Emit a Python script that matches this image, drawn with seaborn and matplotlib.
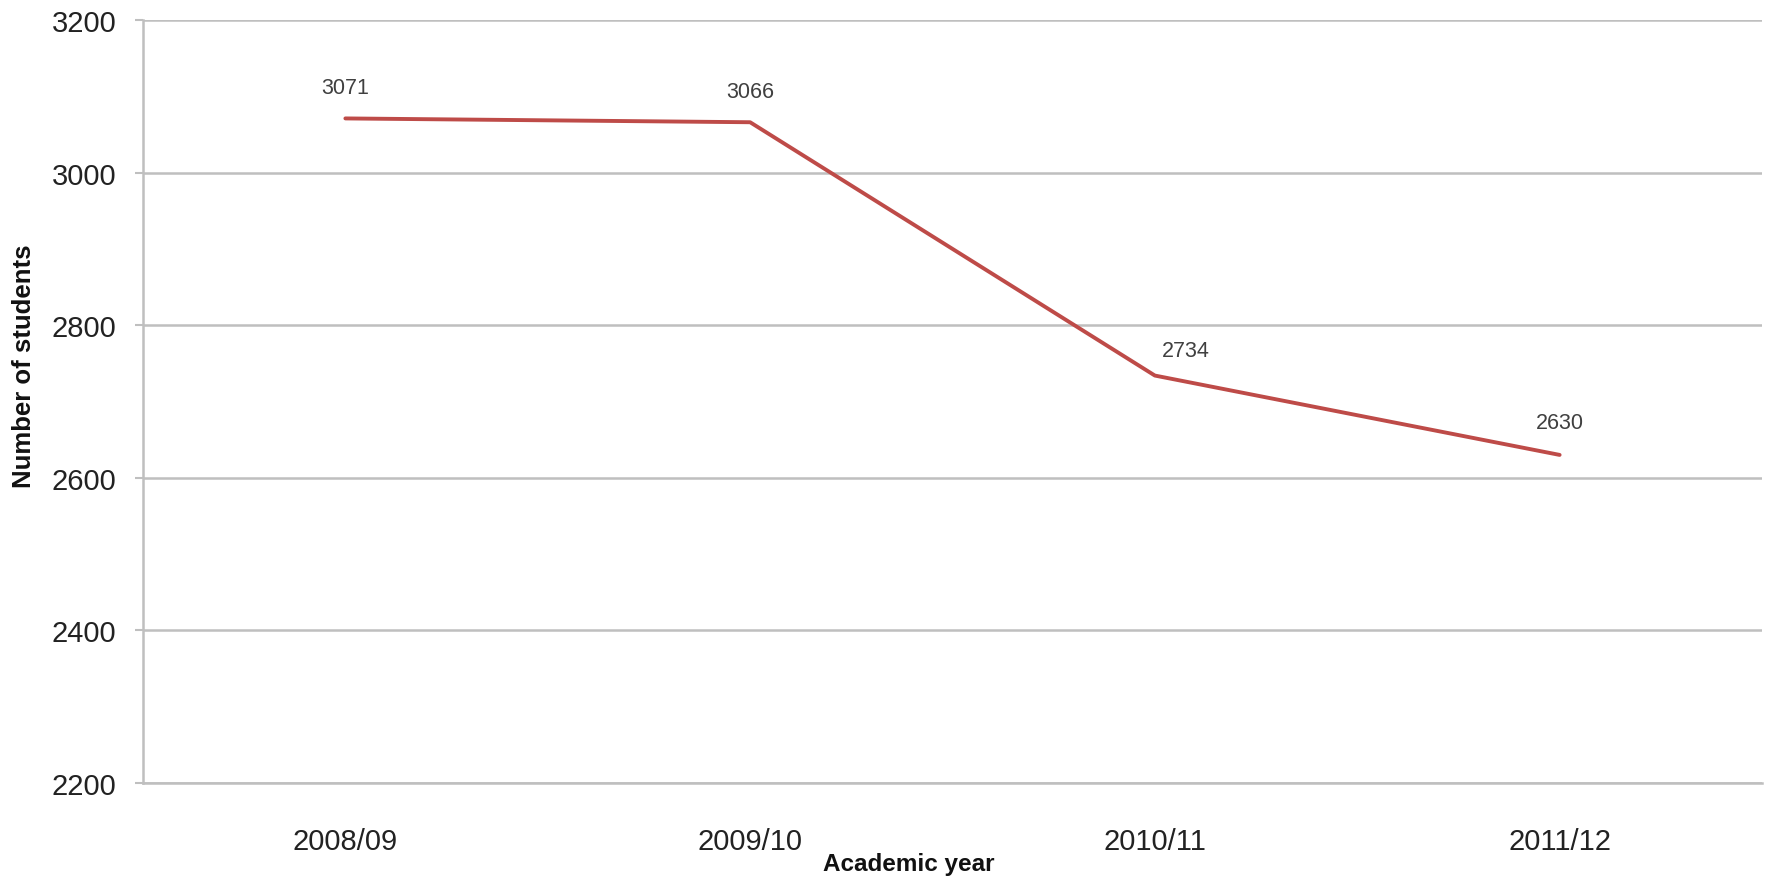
import matplotlib
matplotlib.use("Agg")
import matplotlib.pyplot as plt
import numpy as np
import pandas as pd
import seaborn as sns
from matplotlib.ticker import FixedLocator

years = ["2008/09", "2009/10", "2010/11", "2011/12"]
students = [3071, 3066, 2734, 2630]
label_offsets = [(0, 22), (0, 22), (22, 18), (0, 23)]
y_ticks = [2200, 2400, 2600, 2800, 3000, 3200]

sns.set_theme(style="white")
plt.rcParams["font.family"] = ["Liberation Sans", "DejaVu Sans"]

df = pd.DataFrame({"year": years, "students": students})

fig = plt.figure(figsize=(17.71, 8.79), dpi=100)
ax = fig.add_axes([143 / 1771, 1 - 784 / 879, (1762 - 143) / 1771, (784 - 21) / 879])

sns.lineplot(data=df, x="year", y="students", ax=ax, color="#BE4B48",
             linewidth=2.8, sort=False)

grid_c = "#BFBFBF"
ax.set_xlim(-0.5, len(years) - 0.5)
ax.set_ylim(y_ticks[0], y_ticks[-1])
ax.set_yticks(y_ticks)
ax.yaxis.grid(True, color=grid_c, linewidth=1.8)
ax.xaxis.grid(False)
ax.set_axisbelow(True)

for side in ("top", "right"):
    ax.spines[side].set_visible(False)
for side in ("left", "bottom"):
    ax.spines[side].set_color(grid_c)
    ax.spines[side].set_linewidth(1.8)

ax.set_xticks(range(len(years)))
ax.set_xticklabels(years)
ax.xaxis.set_minor_locator(FixedLocator(np.arange(len(years) + 1) - 0.5))
ax.tick_params(axis="x", which="major", length=0, pad=32, labelsize=21, labelcolor="#222222")
ax.tick_params(axis="x", which="minor", length=6, width=1.5, color=grid_c, direction="out")
ax.tick_params(axis="y", length=6, width=1.5, color=grid_c, pad=13, labelsize=21,
               labelcolor="#222222", direction="out", left=True)

for i, (val, (dx, dy)) in enumerate(zip(students, label_offsets)):
    ax.annotate(str(val), (i, val), xytext=(dx, dy), textcoords="offset points",
                ha="center", va="center", fontsize=15.5, color="#404040")

ax.set_xlabel("Academic year", fontsize=17.5, fontweight="bold", color="#111111")
ax.set_ylabel("Number of students", fontsize=18.5, fontweight="bold", color="#111111")
ax.xaxis.set_label_coords(0.473, -0.106)
ax.yaxis.set_label_coords(-0.0735, 0.547)
ax.xaxis.label.set_va("center")
ax.yaxis.label.set_va("center")

fig.savefig("out.png", dpi=100)
